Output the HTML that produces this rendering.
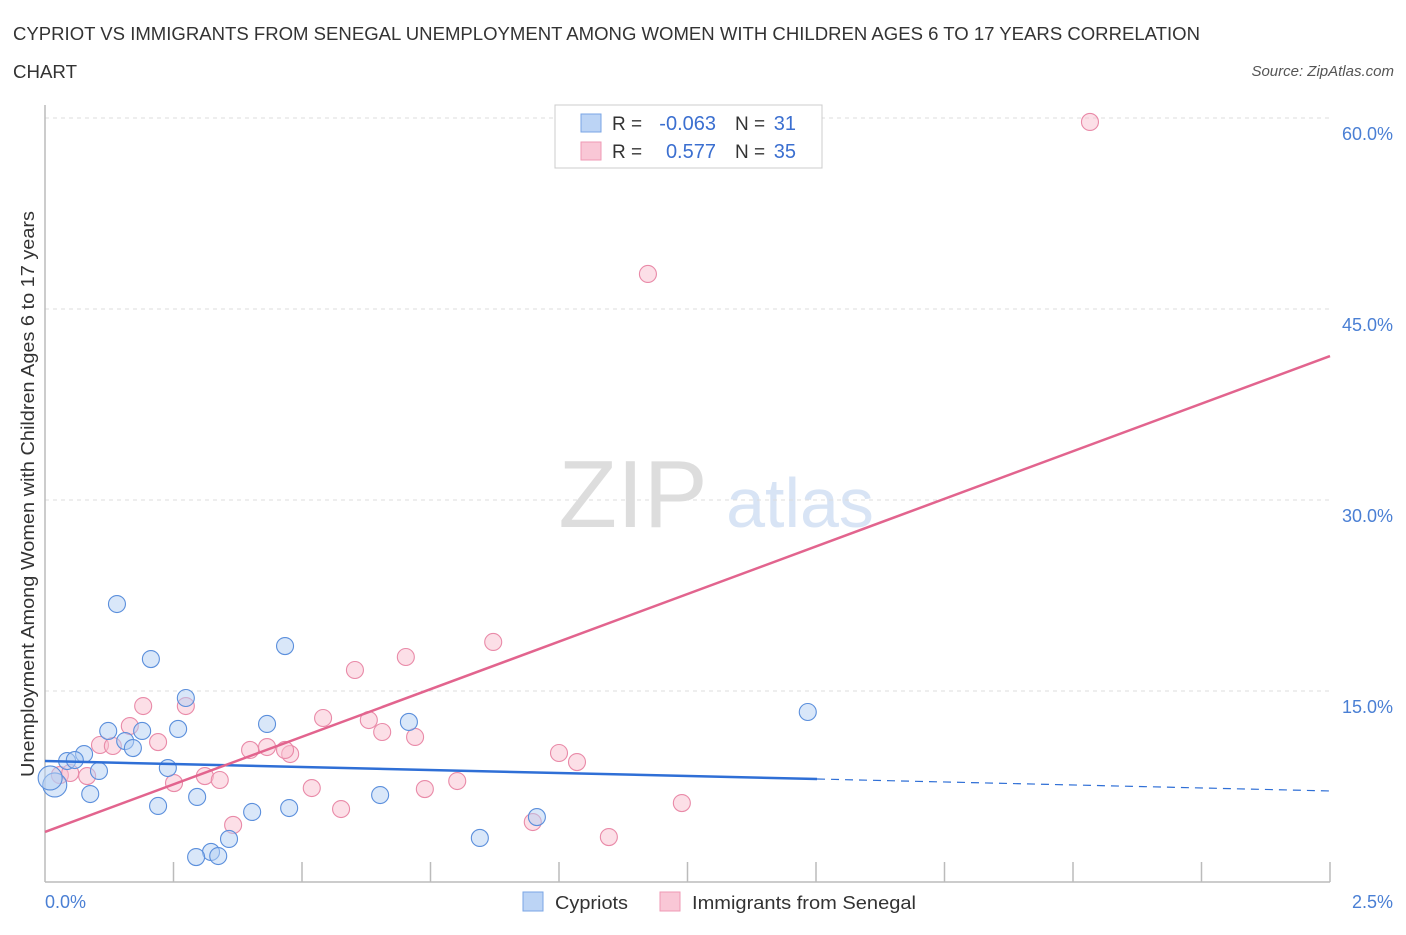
<!DOCTYPE html>
<html><head><meta charset="utf-8"><style>
body{margin:0;background:#fff;font-family:"Liberation Sans",sans-serif;}
svg text{font-family:"Liberation Sans",sans-serif;}
</style></head><body>
<svg id="chart" width="1406" height="930" xmlns="http://www.w3.org/2000/svg">
<text x="13" y="40" font-size="18" fill="#333" textLength="1187" lengthAdjust="spacingAndGlyphs">CYPRIOT VS IMMIGRANTS FROM SENEGAL UNEMPLOYMENT AMONG WOMEN WITH CHILDREN AGES 6 TO 17 YEARS CORRELATION</text>
<text x="13" y="78" font-size="18" fill="#333" textLength="64" lengthAdjust="spacingAndGlyphs">CHART</text>
<text x="1394" y="76" font-size="15" fill="#555" text-anchor="end" font-style="italic">Source: ZipAtlas.com</text>
<text x="633" y="527" font-size="96" fill="#ddd" text-anchor="middle" font-family="Liberation Serif">ZIP</text>
<text x="800" y="527" font-size="70" fill="#d8e4f5" text-anchor="middle">atlas</text>
<g id="grid"></g>
<line x1="45" y1="105" x2="45" y2="882" stroke="#bbb" stroke-width="1.5"/>
<line x1="45" y1="882" x2="1330" y2="882" stroke="#bbb" stroke-width="1.5"/>
<text transform="translate(34,494) rotate(-90)" font-size="18" fill="#333" text-anchor="middle" textLength="566" lengthAdjust="spacingAndGlyphs">Unemployment Among Women with Children Ages 6 to 17 years</text>
<text x="45" y="908" font-size="18" fill="#4a7fd4">0.0%</text>
<text x="1393" y="908" font-size="18" fill="#4a7fd4" text-anchor="end">2.5%</text>
<g id="points"></g>
<g id="trends"></g>
<g>
<rect x="555" y="105" width="267" height="63" fill="#fff" stroke="#ccc"/>
<rect x="581" y="114" width="20" height="18" fill="#bcd4f5" stroke="#7aa5e5"/>
<rect x="581" y="142" width="20" height="18" fill="#f9c7d6" stroke="#ef9ab4"/>
<text x="612" y="130" font-size="19" fill="#333">R =</text>
<text x="716" y="130" font-size="20" fill="#3b6fd0" text-anchor="end">-0.063</text>
<text x="735" y="130" font-size="19" fill="#333">N =</text>
<text x="796" y="130" font-size="20" fill="#3b6fd0" text-anchor="end">31</text>
<text x="612" y="158" font-size="19" fill="#333">R =</text>
<text x="716" y="158" font-size="20" fill="#3b6fd0" text-anchor="end">0.577</text>
<text x="735" y="158" font-size="19" fill="#333">N =</text>
<text x="796" y="158" font-size="20" fill="#3b6fd0" text-anchor="end">35</text>
</g>
<g>
<rect x="523" y="892" width="20" height="19" fill="#bcd4f5" stroke="#7aa5e5"/>
<text x="555" y="909" font-size="18" fill="#333" textLength="73" lengthAdjust="spacingAndGlyphs">Cypriots</text></g>
<g>
<rect x="660" y="892" width="20" height="19" fill="#f9c7d6" stroke="#ef9ab4"/>
<text x="692" y="909" font-size="18" fill="#333" textLength="224" lengthAdjust="spacingAndGlyphs">Immigrants from Senegal</text></g>
</svg>
<script>
const yTicks=[15,30,45,60];
const yTickLabels=["15.0%","30.0%","45.0%","60.0%"];
const xTicks=[0.25,0.5,0.75,1,1.25,1.5,1.75,2,2.25,2.5];
const blueX=[0.140,0.206,0.274,0.259,0.467,0.432,0.708,1.484,0.189,0.123,0.156,0.171,0.076,0.043,0.058,0.105,0.239,0.088,0.019,0.010,0.296,0.220,0.403,0.475,0.652,0.358,0.323,0.294,0.337,0.846,0.957];
const blueY=[21.83,17.51,14.45,12.02,18.53,12.41,12.57,13.35,11.86,11.86,11.07,10.52,10.05,9.50,9.58,8.72,8.95,6.91,7.62,8.17,6.68,5.97,5.50,5.81,6.83,3.38,2.36,1.96,2.04,3.46,5.10];
const pinkX=[2.033,1.173,0.872,0.702,0.603,0.191,0.274,0.541,0.165,0.630,0.656,0.720,0.220,0.107,0.132,0.399,0.432,0.477,0.467,1.000,1.035,0.029,0.049,0.082,0.311,0.340,0.251,0.519,0.802,0.739,0.576,1.239,0.366,0.949,1.097];
const pinkY=[59.69,47.75,18.85,17.67,16.65,13.82,13.82,12.88,12.25,12.72,11.78,11.39,10.99,10.76,10.68,10.37,10.60,10.05,10.37,10.13,9.42,8.40,8.56,8.32,8.32,8.01,7.77,7.38,7.93,7.30,5.73,6.20,4.48,4.71,3.53];
const blueTrend=[9.50,-0.94];
const pinkTrend=[3.93,14.95];
const blueSolidEnd=1.502;
const NS="http://www.w3.org/2000/svg";
const sx=v=>45+v/2.5*1285;
const sy=v=>882-v/15*191;
function mk(t,a,p){const e=document.createElementNS(NS,t);for(const k in a)e.setAttribute(k,a[k]);p.appendChild(e);return e;}
const grid=document.getElementById('grid');
yTicks.forEach((t,i)=>{
 const l=mk('line',{x1:45,x2:1330,y1:sy(t),y2:sy(t),stroke:'#ddd','stroke-dasharray':'4,4'},grid);
 
 
 const tx=mk('text',{x:1393,y:sy(t)+22,'font-size':18,fill:'#4a7fd4','text-anchor':'end'},grid);
 tx.textContent=yTickLabels[i];
 
 
});
xTicks.forEach(t=>{
 const l=mk('line',{x1:sx(t),x2:sx(t),y1:862,y2:882,stroke:'#bbb','stroke-width':1.5},grid);
 
 
});
const pts=document.getElementById('points');
function drawPts(X,Y,fill,stroke,name){
 X.forEach((x,i)=>{
  const c=mk('circle',{cx:sx(x),cy:sy(Y[i]),r:(x<0.02?12:8.5),fill:fill,'fill-opacity':0.5,stroke:stroke,'stroke-width':1.1},pts);
  
  
 });
}
drawPts(pinkX,pinkY,'#f9c0d0','#e98aa8','senegal-point');
drawPts(blueX,blueY,'#b4cff3','#5b8fdc','cypriot-point');
const tr=document.getElementById('trends');
const bl=mk('line',{x1:sx(0),y1:sy(blueTrend[0]),x2:sx(blueSolidEnd),y2:sy(blueTrend[0]+blueTrend[1]*blueSolidEnd),stroke:'#2f6fd6','stroke-width':2.5},tr);


const bd=mk('line',{x1:sx(blueSolidEnd),y1:sy(blueTrend[0]+blueTrend[1]*blueSolidEnd),x2:sx(2.5),y2:sy(blueTrend[0]+blueTrend[1]*2.5),stroke:'#2f6fd6','stroke-width':1.2,'stroke-dasharray':'8,6'},tr);


const pl=mk('line',{x1:sx(0),y1:sy(pinkTrend[0]),x2:sx(2.5),y2:sy(pinkTrend[0]+pinkTrend[1]*2.5),stroke:'#e2648e','stroke-width':2.5},tr);


</script>
</body></html>
